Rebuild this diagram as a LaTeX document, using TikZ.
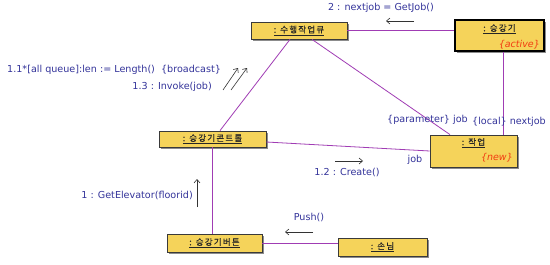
\documentclass[tikz,border=0pt]{standalone}
\usepackage{fontspec}
\setmainfont{DejaVu Sans}
\newfontfamily\krfont[LetterSpace=14,FakeBold=0.3]{Noto Sans CJK KR}
\usetikzlibrary{arrows.meta,shadows}
\definecolor{objfill}{HTML}{F5D35A}
\definecolor{objline}{HTML}{3A3A3A}
\definecolor{assoc}{HTML}{A03CB4}
\definecolor{msgtext}{HTML}{33339A}
\definecolor{tagred}{HTML}{F23C12}

\begin{document}
\begin{tikzpicture}[x=1pt,y=-1pt,
  obj/.style={draw=objline,line width=0.8pt,fill=objfill,inner sep=0pt,
    drop shadow={shadow xshift=1.6pt,shadow yshift=-1.6pt,fill=black!45,opacity=1}},
  active/.style={obj,draw=black,line width=1.6pt},
  objname/.style={font=\krfont\fontsize{8.5}{10}\selectfont,text=black!85},
  tag/.style={font=\fontsize{9.5}{11}\selectfont\itshape,text=tagred,inner sep=0pt},
  lbl/.style={font=\fontsize{9.6}{11}\selectfont,text=msgtext,inner sep=0pt},
  lnk/.style={draw=assoc,line width=0.8pt},
  msg/.style={draw=black!80,line width=0.6pt,-{Straight Barb[length=3.5pt,width=6pt]}}]
  \useasboundingbox[fill=white] (0,0) rectangle (550,265);

  % objects
  \node[obj,minimum width=96pt,minimum height=17pt] (queue) at (299,30.5) {};
  \node[objname] (queuename) at (299,30.5) {\underline{: 수행작업큐}};
  \node[active,minimum width=89pt,minimum height=31pt] (elev) at (499.5,35.5) {};
  \node[objname] (elevname) at (499.5,29) {\underline{: 승강기}};
  \node[tag,anchor=east] (elevtag) at (540,45) {\{active\}};
  \node[obj,minimum width=107pt,minimum height=16pt] (ctrl) at (212.5,139) {};
  \node[objname] (ctrlname) at (212.5,139) {\underline{: 승강기콘트롤}};
  \node[obj,minimum width=87pt,minimum height=32pt] (job) at (473.5,151) {};
  \node[objname] (jobname) at (473.5,143) {\underline{: 작업}};
  \node[tag,anchor=east] (jobtag) at (513,158) {\{new\}};
  \node[obj,minimum width=95pt,minimum height=18pt] (button) at (214.5,243) {};
  \node[objname] (buttonname) at (214.5,243) {\underline{: 승강기버튼}};
  \node[obj,minimum width=89pt,minimum height=18pt] (guest) at (382.5,247) {};
  \node[objname] (guestname) at (382.5,247) {\underline{: 손님}};

  % links
  \draw[lnk] (queue.east) -- (queue.east -| elev.west);
  \draw[lnk] ([xshift=-9]queue.south) -- ([xshift=7.5]ctrl.north);
  \draw[lnk] ([xshift=13]queue.south) -- ([xshift=-23.5]job.north);
  \draw[lnk] ([xshift=3.5]elev.south) -- ([xshift=3.5]elev.south |- job.north);
  \draw[lnk] ([yshift=-3]ctrl.east) -- (job.west);
  \draw[lnk] (ctrl.south) -- (ctrl.south |- button.north);
  \draw[lnk] (button.east) -- (button.east -| guest.west);

  % messages
  \coordinate (getjobA) at (414,21);
  \coordinate (getjobB) at (386,21);
  \draw[msg] (getjobA) -- (getjobB);
  \node[lbl] (getjoblbl) at (381,8) {2 : nextjob = GetJob()};
  \coordinate (lenA) at (223,90);
  \coordinate (lenB) at (238,68);
  \draw[msg] (lenA) -- (lenB);
  \coordinate (invokeA) at (231,90);
  \coordinate (invokeB) at (247,68);
  \draw[msg] (invokeA) -- (invokeB);
  \node[lbl,anchor=west] (lenlbl) at (7,70) {1.1*[all queue]:len := Length()\ \ \{broadcast\}};
  \node[lbl,anchor=east] (invokelbl) at (212,87) {1.3 : Invoke(job)};
  \coordinate (createA) at (335,161);
  \coordinate (createB) at (363,161);
  \draw[msg] (createA) -- (createB);
  \node[lbl] (createlbl) at (347,172) {1.2 : Create()};
  \coordinate (floorA) at (197,207);
  \coordinate (floorB) at (197,179);
  \draw[msg] (floorA) -- (floorB);
  \node[lbl,anchor=east] (floorlbl) at (193,195) {1 : GetElevator(floorid)};
  \coordinate (pushA) at (313,232);
  \coordinate (pushB) at (285,232);
  \draw[msg] (pushA) -- (pushB);
  \node[lbl] (pushlbl) at (309,217) {Push()};

  % role names
  \node[lbl] (jobrole) at (415,160) {job};
  \node[lbl,anchor=west] (paramrole) at (387,120) {\{parameter\} job};
  \node[lbl,anchor=west] (localrole) at (472,122) {\{local\} nextjob};
\end{tikzpicture}
\end{document}
